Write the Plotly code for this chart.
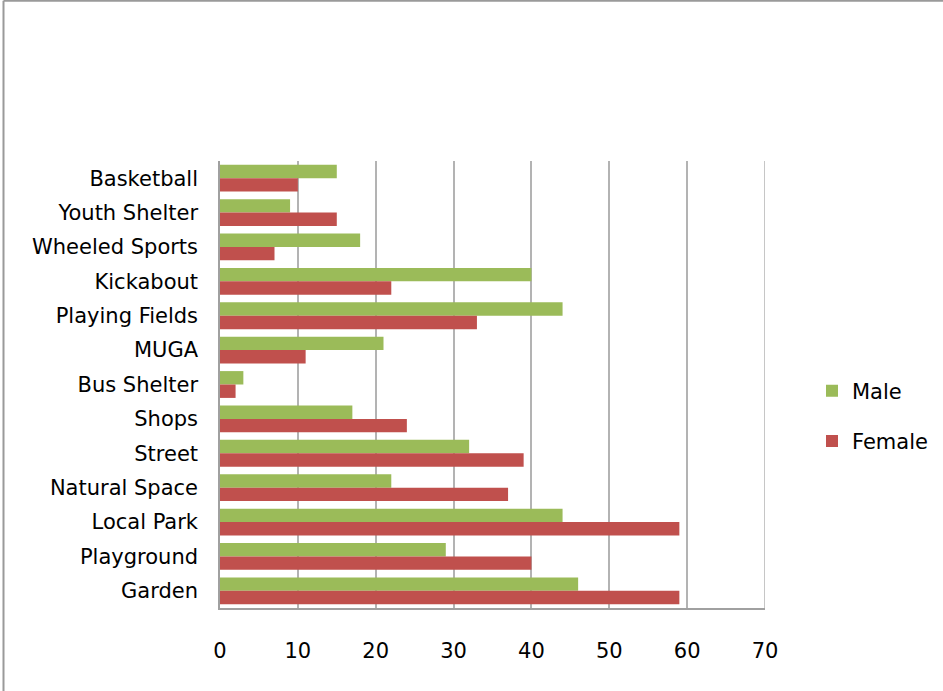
import plotly.graph_objects as go

# Categories listed top to bottom as they appear on the chart
categories = [
    "Basketball", "Youth Shelter", "Wheeled Sports", "Kickabout",
    "Playing Fields", "MUGA", "Bus Shelter", "Shops", "Street",
    "Natural Space", "Local Park", "Playground", "Garden",
]
male = [15, 9, 18, 40, 44, 21, 3, 17, 32, 22, 44, 29, 46]
female = [10, 15, 7, 22, 33, 11, 2, 24, 39, 37, 59, 40, 59]
x_ticks = [0, 10, 20, 30, 40, 50, 60, 70]

GREEN = "#9BBB59"
RED = "#C0504D"
FONT = "DejaVu Sans"
GRID = "#b3b3b3"

W, H = 943, 691
L, R, T, B = 220, W - 765, 161, H - 608

fig = go.Figure()
fig.add_trace(go.Bar(name="Male", y=categories, x=male, orientation="h",
                     marker=dict(color=GREEN, line=dict(width=0)),
                     legendgroup="m"))
fig.add_trace(go.Bar(name="Female", y=categories, x=female, orientation="h",
                     marker=dict(color=RED, line=dict(width=0)),
                     legendgroup="f"))

# Outer frame: top and left edges of the chart area
pw, ph = W - L - R, H - T - B
def px_x(p):
    return (p - L) / pw
def px_y(p):
    return (H - B - p) / ph

fig.add_shape(type="line", xref="paper", yref="paper",
              x0=px_x(3.5), x1=px_x(W + 5), y0=px_y(0.8), y1=px_y(0.8),
              line=dict(color="#9a9a9a", width=2))
fig.add_shape(type="line", xref="paper", yref="paper",
              x0=px_x(3.5), x1=px_x(3.5), y0=px_y(0.8), y1=px_y(H + 5),
              line=dict(color="#9a9a9a", width=2))
# Gridline at the top of the value range (plot's right edge)
fig.add_shape(type="line", xref="x", yref="paper",
              x0=x_ticks[-1], x1=x_ticks[-1], y0=0, y1=1,
              line=dict(color=GRID, width=1.5), layer="below")

fig.update_layout(
    width=W, height=H,
    margin=dict(l=L, r=R, t=T, b=B, autoexpand=False),
    paper_bgcolor="white", plot_bgcolor="white",
    barmode="group", bargap=0.22, bargroupgap=0,
    font=dict(family=FONT, size=21, color="#000000"),
    showlegend=True,
    legend=dict(x=px_x(812), xanchor="left", y=px_y(416), yanchor="middle",
                traceorder="grouped", tracegroupgap=20,
                font=dict(family=FONT, size=21, color="#000000"),
                bgcolor="rgba(0,0,0,0)"),
    xaxis=dict(range=[0, 70], tickvals=x_ticks, showgrid=True,
               gridcolor=GRID, gridwidth=1.5,
               showline=True, linecolor="#a0a0a0", linewidth=1.5,
               zeroline=False, ticks="", ticklabelstandoff=23,
               automargin=False,
               tickfont=dict(family=FONT, size=21, color="#000000")),
    yaxis=dict(autorange="reversed", showgrid=False,
               showline=True, linecolor="#a0a0a0", linewidth=1.5,
               ticks="", ticklabelstandoff=16, automargin=False,
               tickfont=dict(family=FONT, size=21, color="#000000")),
)

fig.write_html("out.html")
